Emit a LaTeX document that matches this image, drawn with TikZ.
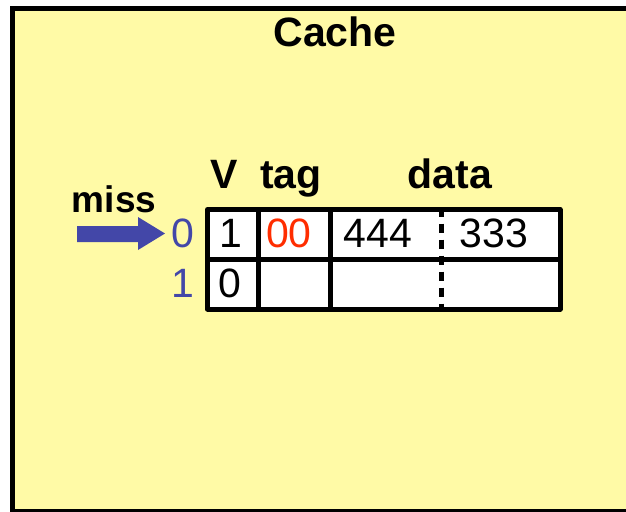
\documentclass[tikz,border=0pt]{standalone}
\usepackage{fontspec}
\setmainfont{Liberation Sans}
\definecolor{cachebg}{HTML}{FFFAA6}
\definecolor{missblue}{HTML}{4347A8}
\definecolor{tagred}{HTML}{FF2D00}
\begin{document}
\begin{tikzpicture}[x=1pt,y=-1pt,
  heading/.style={font=\fontsize{41}{41}\selectfont\bfseries, inner sep=0pt, anchor=base},
  entry/.style={font=\fontsize{41}{41}\selectfont, inner sep=0pt, anchor=base},
  rowidx/.style={entry, text=missblue},
  gridline/.style={line width=5pt, line join=round, line cap=rect}]
\useasboundingbox (0,0) rectangle (626,511);

% cache box, open on the right and cut at the bottom
\begin{scope}
  \clip (0,0) rectangle (626,511);
  \draw[line width=5pt, fill=cachebg] (12,8.5) rectangle (645,511.5);
\end{scope}
\node[heading] (title) at (335,47) {Cache};

% column headings
\node[heading] (hv) at (224,188) {V};
\node[heading] (htag) at (291,188) {tag};
\node[heading] (hdata) at (450,188) {data};

% table body
\fill[white] (207.5,209.5) rectangle (560,309);
\draw[gridline] (258.5,209.5) -- (258.5,309);
\draw[gridline] (330,209.5) -- (330,309);
\draw[gridline] (207.5,259) -- (560,259);
\draw[line width=5pt, dash pattern=on 9pt off 7pt, dash phase=2pt] (441.5,209.5) -- (441.5,309);
\draw[gridline] (207.5,209.5) rectangle (560,309);

% row 0
\node[rowidx] (r0) at (182.5,247) {0};
\node[entry] (v0) at (230.5,247) {1};
\node[entry, text=tagred] (t0) at (289,247) {00};
\node[entry] (da0) at (378,247) {444};
\node[entry] (db0) at (494,247) {333};

% row 1
\node[rowidx] (r1) at (183,297) {1};
\node[entry] (v1) at (229.5,297) {0};

% miss pointer
\node[heading, font=\fontsize{37}{37}\selectfont\bfseries] (miss) at (114,212) {miss};
\fill[missblue] (77,226) -- (138,226) -- (138,217) -- (165,233.5) -- (138,250) -- (138,242) -- (77,242) -- cycle;
\end{tikzpicture}
\end{document}
